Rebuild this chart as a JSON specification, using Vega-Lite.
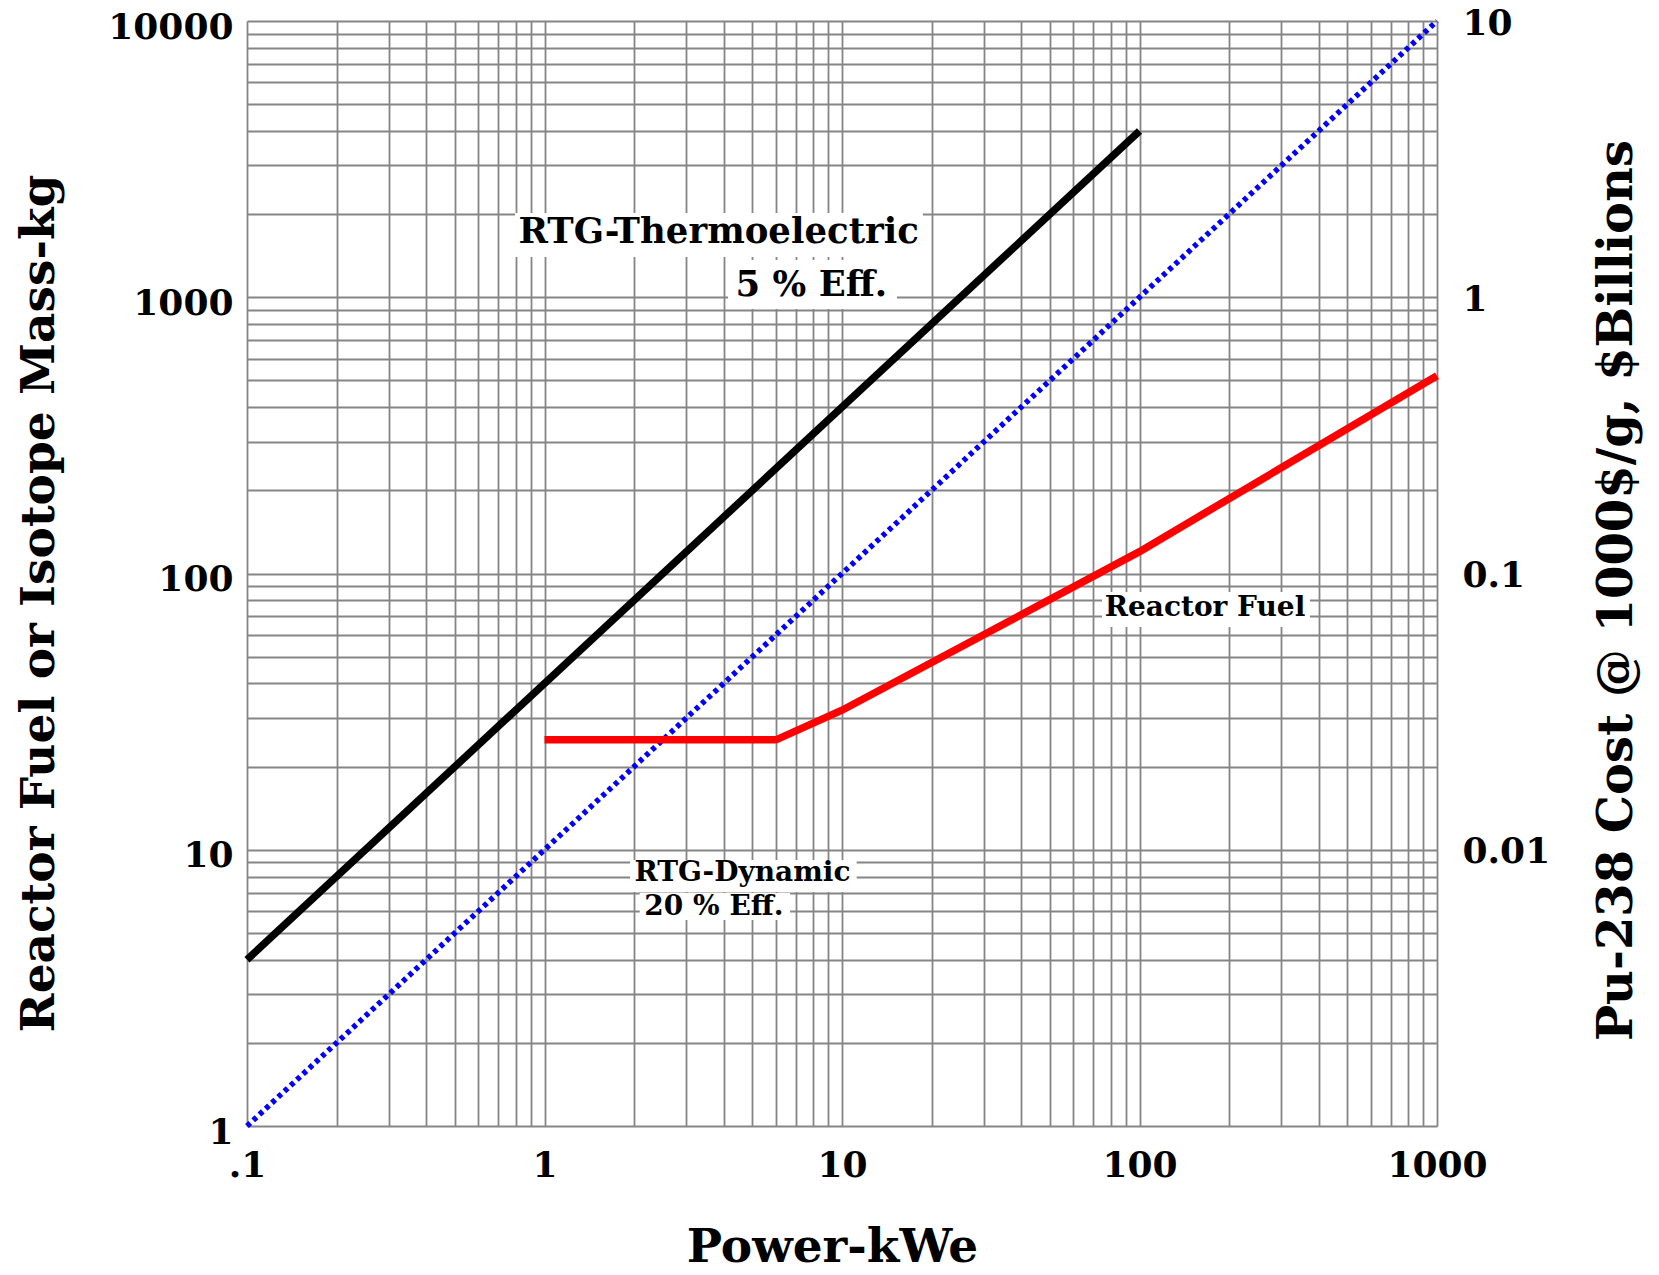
{
  "$schema": "https://vega.github.io/schema/vega-lite/v6.json",
  "width": 1190,
  "height": 1105,
  "autosize": {"type": "none"},
  "padding": {"left": 247, "top": 21, "right": 222, "bottom": 149},
  "background": "white",
  "config": {
    "view": {"stroke": null},
    "font": "DejaVu Serif",
    "axis": {
      "labelFont": "DejaVu Serif",
      "titleFont": "DejaVu Serif",
      "labelFontWeight": "bold",
      "titleFontWeight": "bold",
      "labelColor": "black",
      "titleColor": "black",
      "labelFontSize": 36,
      "titleFontSize": 47,
      "domain": false,
      "ticks": false,
      "labelOverlap": false,
      "labelBound": false,
      "labelFlush": false,
      "gridColor": "#858585",
      "gridWidth": 1.8,
      "gridOpacity": 1
    }
  },
  "datasets": {
    "lines": [
      {"series": "RTG-Thermoelectric", "x": 0.1, "y": 4},
      {"series": "RTG-Thermoelectric", "x": 100, "y": 4000},
      {"series": "RTG-Dynamic", "x": 0.1, "y": 1},
      {"series": "RTG-Dynamic", "x": 1000, "y": 10000},
      {"series": "Reactor Fuel", "x": 1, "y": 25},
      {"series": "Reactor Fuel", "x": 6, "y": 25},
      {"series": "Reactor Fuel", "x": 10, "y": 32},
      {"series": "Reactor Fuel", "x": 100, "y": 120},
      {"series": "Reactor Fuel", "x": 1000, "y": 520}
    ],
    "labels": [
      {"text": "RTG-Thermoelectric", "x": 3.85, "y": 1722, "x1": 0.796, "x2": 18.7, "y1": 2018, "y2": 1399, "size": 35.5},
      {"text": "5 % Eff.", "x": 7.89, "y": 1107, "x1": 4.14, "x2": 15.3, "y1": 1364, "y2": 906, "size": 35.5},
      {"text": "RTG-Dynamic", "x": 4.63, "y": 8.24, "x1": 1.94, "x2": 11.2, "y1": 9.18, "y2": 7.03, "size": 28},
      {"text": "20 % Eff.", "x": 3.71, "y": 6.21, "x1": 2.09, "x2": 6.69, "y1": 6.97, "y2": 5.57, "size": 28},
      {"text": "Reactor Fuel", "x": 166, "y": 75, "x1": 74.8, "x2": 374, "y1": 85.7, "y2": 64.0, "size": 28}
    ],
    "cost": [
      {"cost": 0.001},
      {"cost": 10}
    ]
  },
  "layer": [
    {
      "layer": [
        {
          "data": {"name": "labels"},
          "mark": {"type": "rect", "fill": "white", "stroke": null},
          "encoding": {
            "x": {"field": "x1", "type": "quantitative",
              "scale": {"type": "log", "domain": [0.1, 1000], "nice": false},
              "axis": {
                "values": [0.1,0.2,0.3,0.4,0.5,0.6,0.7,0.8,0.9,1,2,3,4,5,6,7,8,9,10,20,30,40,50,60,70,80,90,100,200,300,400,500,600,700,800,900,1000],
                "labelExpr": "datum.value == 0.1 ? '.1' : (datum.value == 1 || datum.value == 10 || datum.value == 100 || datum.value == 1000) ? format(datum.value, 'd') : ''",
                "labelPadding": 22,
                "labelBaseline": "top",
                "title": "Power-kWe",
                "titleX": 585,
                "titleY": 121,
                "titleAlign": "center",
                "titleBaseline": "middle",
                "grid": true
              }
            },
            "x2": {"field": "x2"},
            "y": {"field": "y1", "type": "quantitative",
              "scale": {"type": "log", "domain": [1, 10000], "nice": false},
              "axis": {
                "orient": "left",
                "values": [1,2,3,4,5,6,7,8,9,10,20,30,40,50,60,70,80,90,100,200,300,400,500,600,700,800,900,1000,2000,3000,4000,5000,6000,7000,8000,9000,10000],
                "labelExpr": "(datum.value == 1 || datum.value == 10 || datum.value == 100 || datum.value == 1000 || datum.value == 10000) ? format(datum.value, 'd') : ''",
                "labelPadding": 14,
                "labelOffset": 6,
                "title": "Reactor Fuel or Isotope Mass-kg",
                "titleAngle": -90,
                "titleX": -208,
                "titleY": 582,
                "titleAlign": "center",
                "titleBaseline": "middle",
                "grid": true
              }
            },
            "y2": {"field": "y2"}
          }
        },
        {
          "data": {"name": "lines"},
          "transform": [{"filter": "datum.series == 'RTG-Dynamic'"}],
          "mark": {"type": "line", "color": "#0000ff", "strokeWidth": 5.5, "strokeDash": [4.5, 4], "strokeCap": "butt"},
          "encoding": {
            "x": {"field": "x", "type": "quantitative"},
            "y": {"field": "y", "type": "quantitative"}
          }
        },
        {
          "data": {"name": "lines"},
          "transform": [{"filter": "datum.series == 'RTG-Thermoelectric'"}],
          "mark": {"type": "line", "color": "#000000", "strokeWidth": 7.5, "strokeCap": "butt"},
          "encoding": {
            "x": {"field": "x", "type": "quantitative"},
            "y": {"field": "y", "type": "quantitative"}
          }
        },
        {
          "data": {"name": "lines"},
          "transform": [{"filter": "datum.series == 'Reactor Fuel'"}],
          "mark": {"type": "line", "color": "#ff0000", "strokeWidth": 7.5, "strokeCap": "butt", "strokeJoin": "miter"},
          "encoding": {
            "x": {"field": "x", "type": "quantitative"},
            "y": {"field": "y", "type": "quantitative"}
          }
        },
        {
          "data": {"name": "labels"},
          "mark": {"type": "text", "fontWeight": "bold", "font": "DejaVu Serif", "color": "black", "align": "center", "baseline": "middle"},
          "encoding": {
            "x": {"field": "x", "type": "quantitative"},
            "y": {"field": "y", "type": "quantitative"},
            "text": {"field": "text"},
            "size": {"field": "size", "type": "quantitative", "scale": null}
          }
        },
        {
          "mark": {"type": "rect", "fill": null, "stroke": "black", "strokeWidth": 2.5},
          "encoding": {
            "x": {"datum": 0.1},
            "x2": {"datum": 1000},
            "y": {"datum": 1},
            "y2": {"datum": 10000}
          }
        }
      ]
    },
    {
      "data": {"name": "cost"},
      "mark": {"type": "point", "opacity": 0},
      "encoding": {
        "y": {"field": "cost", "type": "quantitative",
          "scale": {"type": "log", "domain": [0.001, 10], "nice": false},
          "axis": {
            "orient": "right",
            "values": [0.01, 0.1, 1, 10],
            "labelExpr": "datum.value == 0.01 ? '0.01' : datum.value == 0.1 ? '0.1' : format(datum.value, 'd')",
            "labelPadding": 25,
            "labelOffset": 2,
            "grid": false,
            "title": "Pu-238 Cost @ 1000$/g, $Billions",
            "titleFontSize": 48,
            "titleAngle": -90,
            "titleX": 180,
            "titleY": 569,
            "titleAlign": "center",
            "titleBaseline": "middle"
          }
        }
      }
    }
  ],
  "resolve": {"scale": {"y": "independent"}, "axis": {"y": "independent"}}
}
